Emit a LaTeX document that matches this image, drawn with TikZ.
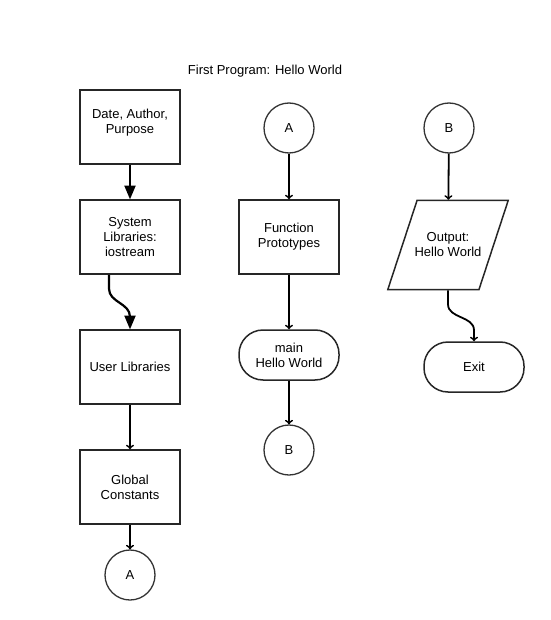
\documentclass[tikz,border=0pt]{standalone}
\usepackage{fontspec}
\setmainfont{Liberation Sans}
\usepackage{tikz}
\usetikzlibrary{arrows,shapes.geometric}

\begin{document}
\begin{tikzpicture}[x=1pt, y=1pt,
		font=\fontsize{13}{15}\selectfont,
		process/.style={rectangle, draw=black!85, line width=1.5pt, minimum width=100pt, minimum height=74pt, align=center, inner sep=2pt},
		terminal/.style={rectangle, rounded corners=24pt, draw=black!85, line width=1.5pt, minimum width=100pt, minimum height=50pt, align=center, inner sep=2pt},
		connector/.style={circle, draw=black!80, line width=1.3pt, minimum size=50pt, inner sep=0pt},
		iobox/.style={trapezium, trapezium left angle=44, trapezium right angle=136, trapezium stretches body, draw=black!85, line width=1.5pt, minimum width=100pt, minimum height=89pt, align=center, inner xsep=-2.5pt, inner ysep=2pt},
		heavy/.style={line width=2.2pt, -triangle 45},
		flow/.style={line width=1.8pt, -to}]
						\useasboundingbox (0,0) rectangle (550,-620);
						\node (title) at (265,-71) {First Program: Hello World};
						\node[process, text depth=11pt] (head) at (130,-127) {Date, Author,\\Purpose};
						\node[process] (sys) at (130,-237) {System\\Libraries:\\iostream};
						\node[process] (usr) at (130,-367) {User Libraries};
						\node[process] (glob) at (130,-487) {Global\\Constants};
						\node[connector] (a1) at (130,-575) {A};
						\node[connector] (a2) at (289,-128) {A};
						\node[process] (proto) at (289,-237) {Function\\Prototypes};
						\node[terminal] (main) at (289,-355) {main\\Hello World};
						\node[connector] (b1) at (289,-450) {B};
						\node[connector] (b2) at (449,-128) {B};
						\node[iobox] (out) at (448,-245) {Output:\\Hello World};
						\node[terminal] (exit) at (474,-367) {Exit};
						\draw[heavy] (head) -- (sys);
						\draw[heavy] ([xshift=-21pt]sys.south) -- ++(0,-14) to[out=-90, in=90] ++(21,-28) -- (usr.north);
						\draw[flow] (usr) -- (glob);
						\draw[flow] (glob) -- (a1);
						\draw[flow] (a2) -- (proto);
						\draw[flow] (proto) -- (main);
						\draw[flow] (main) -- (b1);
						\draw[flow] (b2) -- (out);
						\draw[flow] (out.south) -- ++(0,-14) to[out=-90, in=90] ++(26,-26) -- (exit.north);
					\end{tikzpicture}
\end{document}
